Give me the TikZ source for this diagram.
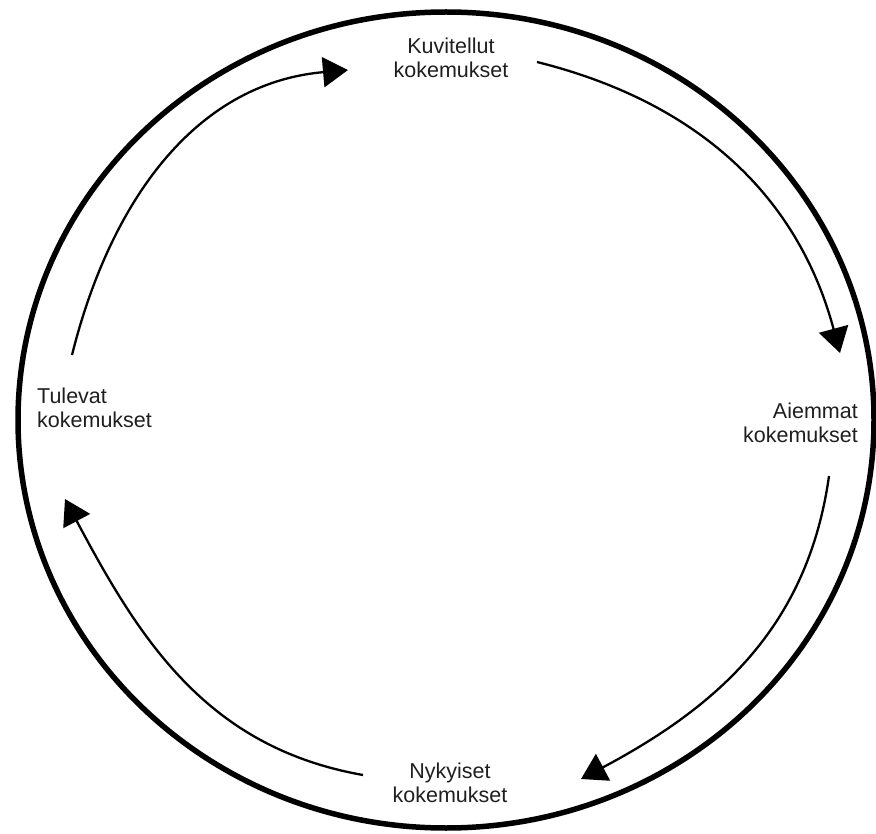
\documentclass[tikz,border=0pt]{standalone}
\usepackage{fontspec}
\setmainfont{Liberation Sans}
\usetikzlibrary{arrows.meta}
\begin{document}
\begin{tikzpicture}[x=1pt,y=1pt,
  lbl/.style={font=\fontsize{21.5}{24}\selectfont, inner sep=0pt, text=black!88},
  flow/.style={line width=2.3pt, -{Triangle[length=25pt,width=30pt]}},
  rim/.style={line width=5.5pt}]
\useasboundingbox (0,0) rectangle (876,-834);
\draw[rim] (446,-420) ellipse [x radius=428, y radius=408];

\node[lbl, align=center] (k) at (451,-58) {Kuvitellut\\kokemukset};
\node[lbl, align=right, anchor=east] (a) at (858,-423) {Aiemmat\\kokemukset};
\node[lbl, align=center] (n) at (450,-782.5) {Nykyiset\\kokemukset};
\node[lbl, align=left, anchor=west] (t) at (37,-408) {Tulevat\\kokemukset};

\coordinate (s1) at (72,-355);  \coordinate (e1) at (348,-70);
\coordinate (s2) at (537,-62);  \coordinate (e2) at (840,-353);
\coordinate (s3) at (829,-476); \coordinate (e3) at (581,-779);
\coordinate (s4) at (363,-775); \coordinate (e4) at (65,-499);

\draw[flow] (s1) to[out=76, in=185] (e1);
\draw[flow] (s2) to[out=-14, in=105] (e2);
\draw[flow] (s3) to[out=262, in=28] (e3);
\draw[flow] (s4) to[out=170, in=298] (e4);
\end{tikzpicture}
\end{document}
